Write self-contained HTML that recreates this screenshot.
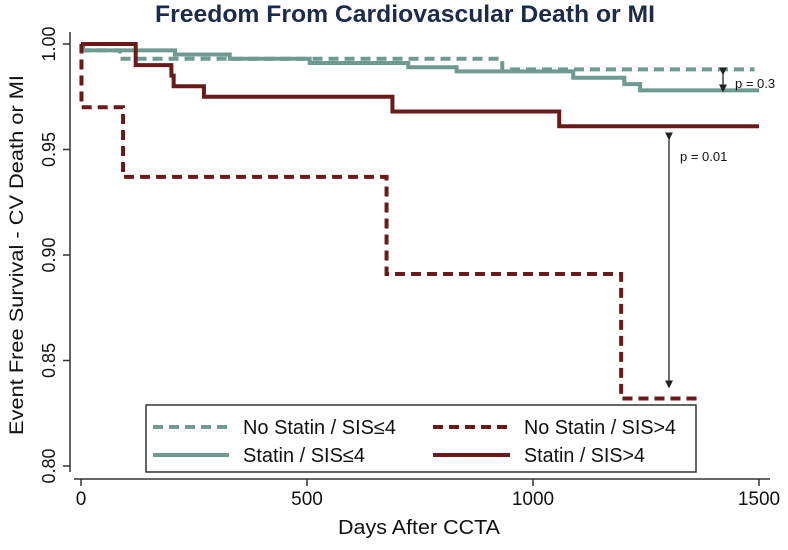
<!DOCTYPE html>
<html><head><meta charset="utf-8"><style>
body{margin:0;background:#fff;}
svg text{font-family:"Liberation Sans",Arial,sans-serif;}
</style></head><body>
<svg id="chart" width="788" height="545" viewBox="0 0 788 545" xmlns="http://www.w3.org/2000/svg">
<defs>
<marker id="ah" markerWidth="8" markerHeight="8" refX="4" refY="4" orient="auto" markerUnits="userSpaceOnUse"><path d="M0,0 L8,4 L0,8 z" fill="#222"/></marker>
</defs>
<text x="155" y="22" textLength="500" lengthAdjust="spacingAndGlyphs" font-size="24" font-weight="bold" fill="#1c2b4a">Freedom From Cardiovascular Death or MI</text>
<text transform="translate(23,255) rotate(-90)" text-anchor="middle" font-size="19" textLength="360" lengthAdjust="spacingAndGlyphs" fill="#111">Event Free Survival - CV Death or MI</text>
<text x="338" y="534" textLength="162" lengthAdjust="spacingAndGlyphs" font-size="20" fill="#111">Days After CCTA</text>
<g id="axes"></g>
<g id="series"></g>
<g id="annot"></g>
<g id="legend">
<rect x="146" y="405" width="550" height="67" fill="#fff" stroke="#333" stroke-width="1.5"/>
<line x1="153" y1="427" x2="229" y2="427" stroke="#6f9a92" stroke-width="4" stroke-dasharray="10,6"/>
<text x="243" y="434" font-size="20" textLength="153" lengthAdjust="spacingAndGlyphs" fill="#111">No Statin / SIS≤4</text>
<line x1="433" y1="427" x2="510" y2="427" stroke="#6b1a1a" stroke-width="4" stroke-dasharray="10,6"/>
<text x="524" y="434" font-size="20" textLength="152" lengthAdjust="spacingAndGlyphs" fill="#111">No Statin / SIS&gt;4</text>
<line x1="153" y1="455" x2="229" y2="455" stroke="#6f9a92" stroke-width="4"/>
<text x="243" y="462" font-size="20" textLength="122" lengthAdjust="spacingAndGlyphs" fill="#111">Statin / SIS≤4</text>
<line x1="433" y1="455" x2="510" y2="455" stroke="#6b1a1a" stroke-width="4"/>
<text x="524" y="462" font-size="20" textLength="121" lengthAdjust="spacingAndGlyphs" fill="#111">Statin / SIS&gt;4</text>
</g>
</svg>
<script>
const xTicks = [0, 500, 1000, 1500];
const yTicks = [0.80, 0.85, 0.90, 0.95, 1.00];
const yTickLabels = ["0.80", "0.85", "0.90", "0.95", "1.00"];
// step functions: times and survival values
const noStatinLowT = [0, 5, 86, 932, 1490];
const noStatinLowS = [0.997, 0.997, 0.993, 0.988, 0.988];
const statinLowT = [0, 5, 208, 329, 506, 724, 831, 1089, 1202, 1237, 1500];
const statinLowS = [1.00, 0.997, 0.995, 0.993, 0.991, 0.989, 0.987, 0.984, 0.981, 0.978, 0.978];
const noStatinHighT = [0, 1, 93, 676, 1195, 1372];
const noStatinHighS = [1.00, 0.970, 0.937, 0.891, 0.832, 0.832];
const statinHighT = [0, 121, 200, 205, 272, 689, 1058, 1500];
const statinHighS = [1.00, 0.990, 0.985, 0.980, 0.975, 0.968, 0.961, 0.961];

const X = d => 81 + d * 0.452;
const Y = v => 44 + (1 - v) * 2110;
const NS = "http://www.w3.org/2000/svg";
function mk(tag, attrs, parent){const e=document.createElementNS(NS,tag);for(const k in attrs)e.setAttribute(k,attrs[k]);parent.appendChild(e);return e;}

const axes=document.getElementById('axes');
let yl=mk('line',{x1:70,y1:32,x2:70,y2:472,stroke:'#333','stroke-width':1.5},axes);


let xl=mk('line',{x1:74,y1:479,x2:770,y2:479,stroke:'#333','stroke-width':1.5},axes);


xTicks.forEach(t=>{
  const tk=mk('line',{x1:X(t),y1:479,x2:X(t),y2:486,stroke:'#333','stroke-width':1.5},axes);
  
  
  const tx=mk('text',{x:X(t),y:505,'text-anchor':'middle','font-size':19,fill:'#111'},axes);
  
  
  tx.textContent=t;
});
yTicks.forEach((t,i)=>{
  const tk=mk('line',{x1:63,y1:Y(t),x2:70,y2:Y(t),stroke:'#333','stroke-width':1.5},axes);
  
  
  const tx=mk('text',{transform:`translate(55,${Y(t)}) rotate(-90)`,'text-anchor':'middle','font-size':18,fill:'#111'},axes);
  
  
  tx.textContent=yTickLabels[i];
});

function stepPath(T,S){
  let d=`M${X(T[0])},${Y(S[0])}`;
  for(let i=1;i<T.length;i++){d+=` H${X(T[i])} V${Y(S[i])}`;}
  return d;
}
const ser=document.getElementById('series');
const defs=[
  [noStatinLowT,noStatinLowS,'#6f9a92','10,6','line-nostatin-low'],
  [statinLowT,statinLowS,'#6f9a92','','line-statin-low'],
  [noStatinHighT,noStatinHighS,'#6b1a1a','10,6','line-nostatin-high'],
  [statinHighT,statinHighS,'#6b1a1a','','line-statin-high']
];
defs.forEach(s=>{
  const p=mk('path',{d:stepPath(s[0],s[1]),fill:'none',stroke:s[2],'stroke-width':4,'stroke-dasharray':s[3]||'none'},ser);
  
  
});

const an=document.getElementById('annot');
let a1=mk('line',{x1:723,y1:Y(0.988)+2,x2:723,y2:Y(0.978)-2,stroke:'#222','stroke-width':1.3,'marker-start':'url(#ah)','marker-end':'url(#ah)'},an);


let t1=mk('text',{x:735,y:88,'font-size':13,fill:'#111'},an);


t1.textContent='p = 0.3';
let a2=mk('line',{x1:669,y1:Y(0.961)+10,x2:669,y2:Y(0.832)-14,stroke:'#222','stroke-width':1.3,'marker-start':'url(#ah)','marker-end':'url(#ah)'},an);


let t2=mk('text',{x:680,y:161,'font-size':13,fill:'#111'},an);


t2.textContent='p = 0.01';
// keep legend on top
document.getElementById('chart').appendChild(document.getElementById('legend'));
</script>
</body></html>
